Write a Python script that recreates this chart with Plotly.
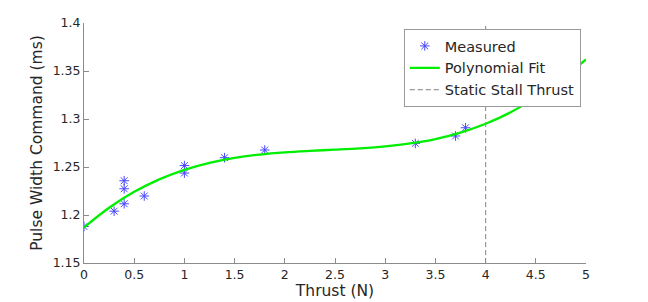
import plotly.graph_objects as go

# Measured data
thrust = [0.0, 0.3, 0.4, 0.4, 0.4, 0.6, 1.0, 1.0, 1.4, 1.8, 3.3, 3.7, 3.8]
pulse = [1.188, 1.204, 1.2357, 1.2273, 1.2117, 1.2198, 1.2515, 1.2437, 1.2597, 1.2677, 1.2746, 1.2823, 1.2909]

# Polynomial fit curve
fit_x = [0.0, 0.25, 0.5, 0.75, 1.0, 1.25, 1.5, 1.75, 2.0, 2.25, 2.5, 2.75,
         3.0, 3.25, 3.5, 3.75, 4.0, 4.25, 4.5, 4.75, 5.0]
fit_y = [1.1870, 1.2075, 1.2241, 1.2371, 1.2470, 1.2543, 1.2595, 1.2630, 1.2653, 1.2668,
         1.2680, 1.2694, 1.2714, 1.2745, 1.2791, 1.2858, 1.2950, 1.3070, 1.3225, 1.3410, 1.3620]

stall_x = [4.0, 4.0]
stall_y = [1.15, 1.4]

x_ticks = [0, 0.5, 1, 1.5, 2, 2.5, 3, 3.5, 4, 4.5, 5]
y_ticks = [1.15, 1.2, 1.25, 1.3, 1.35, 1.4]

font = "DejaVu Sans"
txt = "#262626"
axc = "#8c8c8c"

fig = go.Figure()
fig.add_trace(go.Scatter(x=thrust, y=pulse, mode="markers", name="Measured",
                         marker=dict(symbol="asterisk-open", size=8, color="#4747ff",
                                     line=dict(color="#4747ff", width=1))))
fig.add_trace(go.Scatter(x=fit_x, y=fit_y, mode="lines", name="Polynomial Fit",
                         line=dict(color="#00ee00", width=2.3, shape="spline")))
fig.add_trace(go.Scatter(x=stall_x, y=stall_y, mode="lines", name="Static Stall Thrust",
                         line=dict(color="#999999", width=1.2, dash="5px,3px")))

fig.update_layout(
    width=640, height=294,
    margin=dict(l=76, r=62, t=15, b=39),
    paper_bgcolor="white", plot_bgcolor="white",
    font=dict(family=font, size=12.5, color=txt),
    showlegend=True,
    legend=dict(x=0.637, y=0.975, xanchor="left", yanchor="top",
                bgcolor="white", bordercolor="#999999", borderwidth=1,
                font=dict(size=14.5, color=txt), itemwidth=30,
                tracegroupgap=0),
)
fig.update_xaxes(range=[0, 5], tickvals=x_ticks, ticktext=[f"{v:g}" for v in x_ticks],
                 showgrid=False, zeroline=False, showline=True, linecolor=axc, linewidth=1,
                 ticks="inside", ticklen=5, tickcolor=axc, automargin=False,
                 title=dict(text="Thrust (N)", font=dict(size=15.5, color=txt), standoff=3))
fig.update_yaxes(range=[1.15, 1.4], tickvals=y_ticks, ticktext=[f"{v:g}" for v in y_ticks],
                 showgrid=False, zeroline=False, showline=True, linecolor=axc, linewidth=1,
                 ticks="inside", ticklen=5, tickcolor=axc, automargin=False,
                 title=dict(text="Pulse Width Command (ms)", font=dict(size=15.5, color=txt), standoff=6))

fig.write_html("out.html")
